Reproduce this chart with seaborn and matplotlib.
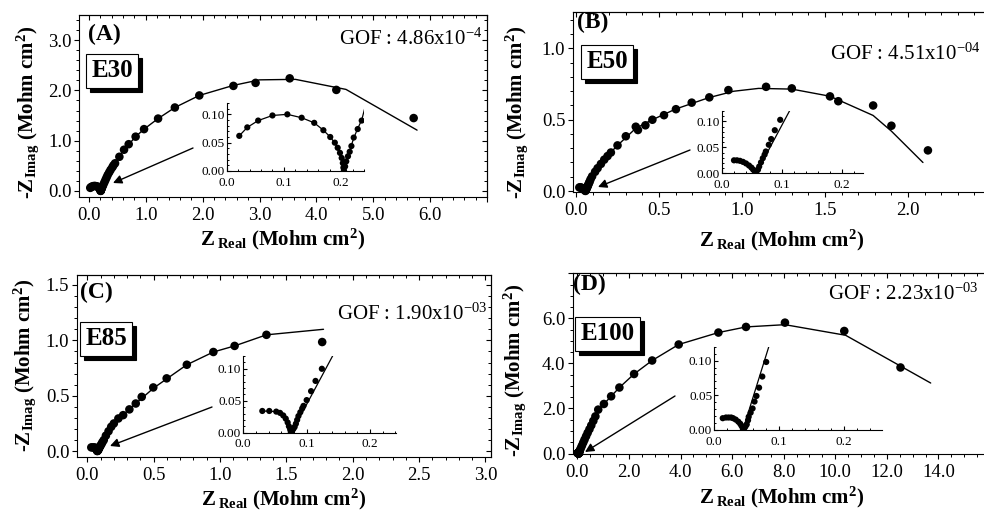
import matplotlib
matplotlib.use("Agg")
import matplotlib.pyplot as plt
import seaborn as sns
import pandas as pd
from matplotlib.patches import Rectangle
from matplotlib.ticker import MultipleLocator, FuncFormatter, NullFormatter

# ---------------- data ----------------
# Panel A : E30
A_zre = [0.022, 0.036, 0.055, 0.080, 0.106, 0.131, 0.153, 0.169, 0.181, 0.189, 0.194, 0.198,
         0.201, 0.203, 0.204, 0.205, 0.207, 0.209, 0.212, 0.215, 0.218, 0.222, 0.229, 0.236,
         0.25, 0.27, 0.29, 0.31, 0.33, 0.355, 0.38, 0.41, 0.43, 0.458, 0.534, 0.616, 0.698,
         0.82, 0.968, 1.215, 1.51, 1.94, 2.54, 2.93, 3.53, 4.35, 5.71]
A_zim = [0.062, 0.077, 0.089, 0.098, 0.100, 0.094, 0.085, 0.072, 0.060, 0.050, 0.041, 0.032,
         0.023, 0.014, 0.006, 0.001, 0.008, 0.017, 0.026, 0.034, 0.044, 0.059, 0.074, 0.089,
         0.12, 0.17, 0.22, 0.27, 0.32, 0.37, 0.42, 0.47, 0.51, 0.55, 0.68, 0.82, 0.93,
         1.08, 1.23, 1.44, 1.66, 1.90, 2.09, 2.15, 2.24, 2.01, 1.45]
A_fit_zre = [0.020, 0.036, 0.055, 0.080, 0.106, 0.131, 0.153, 0.169, 0.181, 0.190, 0.197, 0.202,
             0.205, 0.209, 0.215, 0.222, 0.229, 0.236, 0.245, 0.29, 0.38, 0.458, 0.616, 0.82,
             0.968, 1.215, 1.51, 1.94, 2.54, 3.00, 3.63, 4.52, 5.77]
A_fit_zim = [0.060, 0.077, 0.089, 0.098, 0.100, 0.094, 0.085, 0.072, 0.060, 0.048, 0.032, 0.016,
             0.002, 0.016, 0.036, 0.058, 0.075, 0.090, 0.125, 0.22, 0.42, 0.55, 0.82, 1.08,
             1.23, 1.44, 1.66, 1.90, 2.10, 2.21, 2.22, 2.02, 1.21]

# Panel B : E50
B_zre = [0.020, 0.025, 0.030, 0.035, 0.040, 0.045, 0.049, 0.052, 0.055, 0.057, 0.060, 0.062,
         0.065, 0.068, 0.071, 0.073, 0.078, 0.082, 0.088, 0.097, 0.115, 0.13, 0.15, 0.17,
         0.19, 0.21, 0.25, 0.30, 0.36, 0.373, 0.418, 0.46, 0.53, 0.602, 0.697, 0.803, 0.918,
         1.145, 1.30, 1.53, 1.58, 1.79, 1.90, 2.12]
B_zim = [0.025, 0.025, 0.024, 0.022, 0.019, 0.015, 0.011, 0.007, 0.003, 0.0005, 0.007, 0.013,
         0.021, 0.029, 0.036, 0.042, 0.055, 0.066, 0.083, 0.103, 0.135, 0.16, 0.19, 0.22,
         0.245, 0.27, 0.32, 0.384, 0.451, 0.428, 0.461, 0.50, 0.532, 0.574, 0.62, 0.657, 0.708,
         0.731, 0.72, 0.664, 0.63, 0.60, 0.458, 0.285]
B_fit_zre = [0.020, 0.030, 0.040, 0.049, 0.055, 0.057, 0.112, 0.15, 0.25, 0.36, 0.46, 0.60,
             0.80, 0.95, 1.10, 1.30, 1.53, 1.79, 1.90, 2.09]
B_fit_zim = [0.025, 0.024, 0.019, 0.011, 0.003, 0.0, 0.119, 0.20, 0.32, 0.44, 0.50, 0.575,
             0.655, 0.70, 0.72, 0.715, 0.665, 0.53, 0.42, 0.20]

# Panel C : E85
C_zre = [0.030, 0.041, 0.052, 0.058, 0.063, 0.067, 0.070, 0.072, 0.074, 0.075, 0.077, 0.079,
         0.081, 0.083, 0.085, 0.087, 0.090, 0.093, 0.095, 0.100, 0.107, 0.114, 0.124, 0.14,
         0.16, 0.18, 0.20, 0.234, 0.27, 0.317, 0.365, 0.41, 0.497, 0.598, 0.75, 0.95, 1.11,
         1.35, 1.77]
C_zim = [0.034, 0.034, 0.033, 0.031, 0.027, 0.022, 0.016, 0.010, 0.005, 0.001, 0.003, 0.006,
         0.009, 0.014, 0.020, 0.026, 0.032, 0.038, 0.042, 0.051, 0.065, 0.081, 0.100, 0.14,
         0.18, 0.22, 0.25, 0.295, 0.325, 0.377, 0.43, 0.49, 0.575, 0.657, 0.78, 0.895, 0.95,
         1.05, 0.985]
C_fit_zre = [0.030, 0.052, 0.063, 0.070, 0.074, 0.076, 0.142, 0.20, 0.317, 0.50, 0.75, 0.95,
             1.11, 1.35, 1.78]
C_fit_zim = [0.034, 0.033, 0.027, 0.016, 0.006, 0.0, 0.122, 0.25, 0.38, 0.57, 0.78, 0.895,
             0.95, 1.05, 1.10]

# Panel D : E100
D_zre = [0.013, 0.018, 0.022, 0.026, 0.029, 0.033, 0.037, 0.040, 0.042, 0.044, 0.046, 0.048,
         0.050, 0.052, 0.053, 0.056, 0.059, 0.062, 0.065, 0.069, 0.074, 0.080, 0.10, 0.14,
         0.18, 0.23, 0.28, 0.34, 0.40, 0.47, 0.54, 0.62, 0.70, 0.81, 1.03, 1.31, 1.63, 2.20,
         2.90, 3.93, 5.47, 6.54, 8.05, 10.35, 12.53]
D_zim = [0.017, 0.018, 0.018, 0.018, 0.017, 0.015, 0.012, 0.009, 0.006, 0.002, 0.002, 0.005,
         0.008, 0.014, 0.019, 0.025, 0.031, 0.041, 0.049, 0.061, 0.077, 0.098, 0.15, 0.25,
         0.36, 0.49, 0.62, 0.77, 0.92, 1.08, 1.25, 1.45, 1.65, 1.95, 2.20, 2.54, 2.93, 3.53,
         4.13, 4.84, 5.37, 5.62, 5.81, 5.44, 3.82]
D_fit_zre = [0.013, 0.022, 0.029, 0.037, 0.042, 0.044, 0.084, 0.20, 0.50, 0.81, 1.03, 1.63,
             2.20, 2.90, 3.93, 5.47, 6.54, 8.05, 10.40, 13.70]
D_fit_zim = [0.017, 0.018, 0.017, 0.012, 0.006, 0.0, 0.120, 0.46, 1.20, 1.92, 2.20, 2.93,
             3.53, 4.13, 4.84, 5.37, 5.62, 5.72, 5.25, 3.13]

panel_letters = ["(A)", "(B)", "(C)", "(D)"]
sample_names = ["E30", "E50", "E85", "E100"]
gof_mantissa = ["4.86", "4.51", "1.90", "2.23"]
gof_exponent = ["-4", "-04", "-03", "-03"]

# ---------------- style ----------------
sns.set_theme(style="ticks", rc={
    "axes.edgecolor": "black", "axes.labelcolor": "black", "text.color": "black",
    "xtick.color": "black", "ytick.color": "black", "axes.linewidth": 0.8,
    "xtick.major.width": 0.8, "ytick.major.width": 0.8,
    "xtick.minor.width": 0.7, "ytick.minor.width": 0.7,
})
plt.rcParams["font.family"] = ["Liberation Serif", "DejaVu Serif"]
plt.rcParams["mathtext.fontset"] = "custom"
plt.rcParams["mathtext.rm"] = "Liberation Serif"
plt.rcParams["mathtext.bf"] = "Liberation Serif:bold"
plt.rcParams["mathtext.it"] = "Liberation Serif:italic"

W, H = 984, 513
fig = plt.figure(figsize=(W / 100, H / 100), dpi=100)


def rect(l, t, r, b):
    return [l / W, 1 - b / H, (r - l) / W, (b - t) / H]


def fp(x, y):
    return (x / W, 1 - y / H)


def fmt_upto(fmt, vmax):
    def f(v, pos):
        if v < -1e-9 or v > vmax + 1e-9:
            return ""
        return fmt % (0.0 if abs(v) < 1e-9 else v)
    return FuncFormatter(f)


XLABEL = r"$\mathbf{Z}_{\;\mathbf{Real}}$ (Mohm cm$^{\mathbf{2}}$)"
YLABEL = r"-$\mathbf{Z}_{\mathbf{Imag}}$ (Mohm cm$^{\mathbf{2}}$)"

layout = [
    dict(main=(79, 15, 487, 197), inset=(226.7, 103, 364, 171),
         xlim=(-0.176, 7.0), ylim=(-0.12, 3.5), xmaj=1.0, xmin=0.2, xmax_lab=6.0,
         ymaj=1.0, ymin=0.2, ymax_lab=3.0, ixlim=(0, 0.24), iylim=(0, 0.12),
         xlab_y=-0.165, ylab=(-0.092, 0.467),
         letter=(88, 34), ebox=(112, 71), gof=(482, 45, "right"),
         arrow=((193, 148), (113, 183))),
    dict(main=(572.7, 12, 991, 192), inset=(722, 111, 863, 173.3),
         xlim=(-0.02, 2.5), ylim=(-0.007, 1.256), xmaj=0.5, xmin=0.1, xmax_lab=2.0,
         ymaj=0.5, ymin=0.1, ymax_lab=1.0, ixlim=(0, 0.235), iylim=(0, 0.12),
         xlab_y=-0.2, ylab=(-0.102, 0.44),
         letter=(577, 22), ebox=(607, 61.5), gof=(830, 60, "left"),
         arrow=((690, 150), (598, 187))),
    dict(main=(76.7, 275, 490.7, 456.7), inset=(243.3, 356, 396, 432.7),
         xlim=(-0.08, 3.04), ylim=(-0.05, 1.59), xmaj=0.5, xmin=0.1, xmax_lab=3.0,
         ymaj=0.5, ymin=0.1, ymax_lab=1.5, ixlim=(0, 0.241), iylim=(0, 0.12),
         xlab_y=-0.167, ylab=(-0.093, 0.505),
         letter=(80, 292), ebox=(106, 338.5), gof=(487, 320, "right"),
         arrow=((212, 407), (110, 446))),
    dict(main=(572.7, 273.3, 990, 454), inset=(714.3, 346.7, 881.7, 430),
         xlim=(-0.18, 16.0), ylim=(-0.02, 8.0), xmaj=2.0, xmin=0.5, xmax_lab=14.0,
         ymaj=2.0, ymin=0.5, ymax_lab=6.0, ixlim=(0, 0.258), iylim=(0, 0.12),
         xlab_y=-0.17, ylab=(-0.107, 0.46),
         letter=(573, 284), ebox=(607.5, 333.5), gof=(828, 300, "left"),
         arrow=((675, 396), (585, 452))),
]

meas = [(A_zre, A_zim), (B_zre, B_zim), (C_zre, C_zim), (D_zre, D_zim)]
fits = [(A_fit_zre, A_fit_zim), (B_fit_zre, B_fit_zim), (C_fit_zre, C_fit_zim), (D_fit_zre, D_fit_zim)]

sample_texts = []

for i, L in enumerate(layout):
    dm = pd.DataFrame({"zre": meas[i][0], "zim": meas[i][1]})
    df = pd.DataFrame({"zre": fits[i][0], "zim": fits[i][1]})

    ax = fig.add_axes(rect(*L["main"]))
    sns.lineplot(data=df, x="zre", y="zim", sort=False, estimator=None, color="black",
                 lw=1.0, ax=ax, zorder=2)
    sns.scatterplot(data=dm, x="zre", y="zim", color="black", s=38, edgecolor="none",
                    ax=ax, zorder=3, clip_on=False)
    ax.set_xlim(*L["xlim"])
    ax.set_ylim(*L["ylim"])
    ax.xaxis.set_major_locator(MultipleLocator(L["xmaj"]))
    ax.xaxis.set_minor_locator(MultipleLocator(L["xmin"]))
    ax.yaxis.set_major_locator(MultipleLocator(L["ymaj"]))
    ax.yaxis.set_minor_locator(MultipleLocator(L["ymin"]))
    ax.xaxis.set_major_formatter(fmt_upto("%.1f", L["xmax_lab"]))
    ax.yaxis.set_major_formatter(fmt_upto("%.1f", L["ymax_lab"]))
    ax.tick_params(which="both", direction="out", top=False, right=False, labelsize=13.5)
    ax.tick_params(which="major", length=3.8)
    ax.tick_params(which="minor", length=2.2)
    ax.tick_params(axis="y", pad=1.5)
    for s in ax.spines.values():
        s.set_visible(True)
        s.set_linewidth(0.8)

    sx = ax.secondary_xaxis("top")
    sx.xaxis.set_major_locator(MultipleLocator(L["xmaj"]))
    sx.xaxis.set_minor_locator(MultipleLocator(L["xmin"]))
    sx.xaxis.set_major_formatter(NullFormatter())
    sx.tick_params(which="both", direction="in")
    sx.tick_params(which="major", length=3.8)
    sx.tick_params(which="minor", length=2.2)
    sy = ax.secondary_yaxis("right")
    sy.yaxis.set_major_locator(MultipleLocator(L["ymaj"]))
    sy.yaxis.set_minor_locator(MultipleLocator(L["ymin"]))
    sy.yaxis.set_major_formatter(NullFormatter())
    sy.tick_params(which="both", direction="in")
    sy.tick_params(which="major", length=3.8)
    sy.tick_params(which="minor", length=2.2)

    ax.set_xlabel(XLABEL, fontsize=15, fontweight="bold")
    ax.set_ylabel(YLABEL, fontsize=15, fontweight="bold")
    ax.xaxis.set_label_coords(0.5, L["xlab_y"])
    ax.yaxis.set_label_coords(*L["ylab"])

    # arrow pointing to the zoomed region
    (tx, ty), (hx, hy) = L["arrow"]
    ax.annotate("", xy=fp(hx, hy), xytext=fp(tx, ty), xycoords="figure fraction",
                textcoords="figure fraction", annotation_clip=False,
                arrowprops=dict(arrowstyle="-|>", color="black", lw=1.0,
                                mutation_scale=13, shrinkA=0, shrinkB=0))

    # inset
    ai = fig.add_axes(rect(*L["inset"]))
    ai.set_facecolor("none")
    sns.lineplot(data=df, x="zre", y="zim", sort=False, estimator=None, color="black",
                 lw=0.9, ax=ai, zorder=2)
    sns.scatterplot(data=dm, x="zre", y="zim", color="black", s=20, edgecolor="none",
                    ax=ai, zorder=3)
    ai.set_xlim(*L["ixlim"])
    ai.set_ylim(*L["iylim"])
    ai.xaxis.set_major_locator(MultipleLocator(0.1))
    ai.xaxis.set_minor_locator(MultipleLocator(0.02))
    ai.yaxis.set_major_locator(MultipleLocator(0.05))
    ai.yaxis.set_minor_locator(MultipleLocator(0.01))
    ai.xaxis.set_major_formatter(fmt_upto("%.1f", 0.2))
    ai.yaxis.set_major_formatter(fmt_upto("%.2f", 0.10))
    ai.spines["top"].set_visible(False)
    ai.spines["right"].set_visible(False)
    ai.tick_params(which="both", direction="in", labelsize=9.5)
    ai.tick_params(axis="y", pad=1.5)
    ai.tick_params(axis="x", pad=4.0)
    ai.tick_params(which="major", length=2.8)
    ai.tick_params(which="minor", length=1.5)
    ai.set_xlabel("")
    ai.set_ylabel("")

    # panel letter
    lx, ly = L["letter"]
    fig.text(*fp(lx, ly), panel_letters[i], fontsize=17, fontweight="bold",
             ha="left", va="center")

    # sample label box (shadow added after layout is known)
    ex, ey = L["ebox"]
    t = fig.text(*fp(ex, ey), sample_names[i], fontsize=18, fontweight="bold",
                 ha="center", va="center", color="black", zorder=4,
                 bbox=dict(boxstyle="square,pad=0.22", fc="white", ec="black", lw=0.8))
    sample_texts.append(t)

    # goodness of fit
    gx, gy, gha = L["gof"]
    fig.text(*fp(gx, gy), "GOF : %sx10$^{\\mathregular{%s}}$" % (gof_mantissa[i], gof_exponent[i]),
             fontsize=15, ha=gha, va="baseline")

# drop shadows behind the sample boxes
fig.canvas.draw()
renderer = fig.canvas.get_renderer()
for t in sample_texts:
    bb = t.get_bbox_patch().get_window_extent(renderer)
    fig.add_artist(Rectangle(((bb.x0 + 4) / W, (bb.y0 - 4) / H), bb.width / W, bb.height / H,
                             transform=fig.transFigure, facecolor="black", edgecolor="black",
                             lw=0.8, zorder=3.5))

fig.savefig("out.png", dpi=100)
